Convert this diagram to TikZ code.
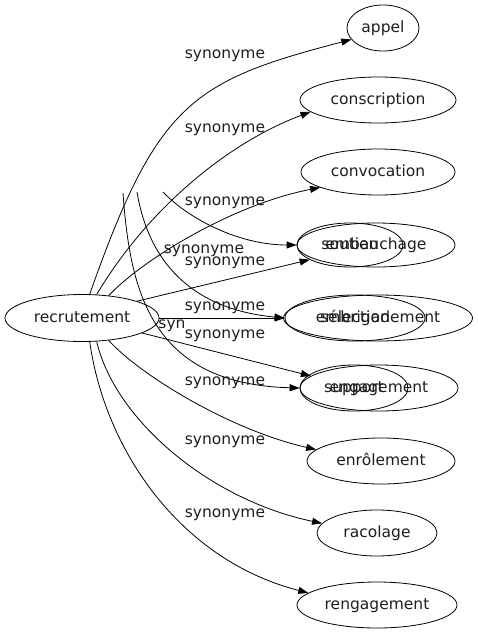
\documentclass[tikz,border=0pt]{standalone}
\usepackage{fontspec}
\setmainfont{DejaVu Sans}
\usetikzlibrary{arrows.meta,shapes.geometric}
\definecolor{encre}{RGB}{30,30,30}

\tikzset{
  mot/.style={draw, ellipse, inner sep=0pt, line width=0.8pt, minimum height=46pt, text height=11pt, text depth=3pt, text=encre, font=\fontsize{15.5}{18}\selectfont},
  lien/.style={-{Triangle[length=10pt,width=7pt]}, line width=0.8pt},
  etiq/.style={text=encre, inner sep=0pt, text height=11pt, text depth=3pt, font=\fontsize{15.5}{18}\selectfont},
}

\begin{document}
\begin{tikzpicture}[x=1pt,y=-1pt]
\useasboundingbox (0,0) rectangle (477,635);
\node (recrutement) at (82,318) [mot, minimum width=154pt, minimum height=47pt] {recrutement};
\node (appel) at (383,28) [mot, minimum width=72pt] {appel};
\node (conscription) at (378,100) [mot, minimum width=156pt] {conscription};
\node (convocation) at (378,172) [mot, minimum width=154pt] {convocation};
\node (embauchage) at (376,245) [mot, minimum width=158pt, minimum height=44pt] {embauchage};
\node (soutien) at (350,245) [mot, minimum width=106pt, minimum height=44pt] {soutien};
\node (embrigadement) at (378,318) [mot, minimum width=189pt] {embrigadement};
\node (selection) at (355,318) [mot, minimum width=140pt] {sélection};
\node (engagement) at (379,388) [mot, minimum width=158pt] {engagement};
\node (support) at (354,388) [mot, minimum width=108pt] {support};
\node (enrolement) at (381,461) [mot, minimum width=148pt] {enrôlement};
\node (racolage) at (377,533) [mot, minimum width=120pt] {racolage};
\node (rengagement) at (377,605) [mot, minimum width=160pt] {rengagement};

% bouts d'aretes sans depart visible
\coordinate (boutA) at (123,193);
\coordinate (boutB) at (137,192);
\coordinate (boutC) at (163,192);

\draw[lien] (recrutement.72) .. controls (157,103) and (192,81) .. (appel.200);
\draw[lien] (recrutement.58) .. controls (150,205) and (232,141) .. (conscription.190);
\draw[lien] (recrutement.40) .. controls (140,262) and (230,205) .. (convocation.195);
\draw[lien] (recrutement.17) -- (soutien.200);
\draw[lien] (recrutement.east) -- (selection.west);
\draw[lien] (recrutement.-14) -- (engagement.170);
\draw[lien] (recrutement.-40) .. controls (140,375) and (230,430) .. (enrolement.170);
\draw[lien] (recrutement.-58) .. controls (115,420) and (210,500) .. (racolage.170);
\draw[lien] (recrutement.-72) .. controls (105,450) and (180,560) .. (rengagement.170);
\draw[lien] (boutA) .. controls (130,290) and (150,384) .. (support.west);
\draw[lien] (boutB) .. controls (150,270) and (200,310) .. (selection.west);
\draw[lien] (boutC) .. controls (190,220) and (240,245) .. (soutien.west);

\node (syn1) at (225,54) [etiq] {synonyme};
\node (syn2) at (225,128) [etiq] {synonyme};
\node (syn3) at (225,201) [etiq] {synonyme};
\node (syn4) at (204,249) [etiq] {synonyme};
\node (syn5) at (225,261) [etiq] {synonyme};
\node (syn6) at (225,306) [etiq] {synonyme};
\node (syn7) at (225,334) [etiq] {synonyme};
\node (syn8) at (225,381) [etiq] {synonyme};
\node (syn9) at (225,440) [etiq] {synonyme};
\node (syn10) at (225,513) [etiq] {synonyme};
\node (syn11) at (172,324) [etiq] {syn};
\end{tikzpicture}
\end{document}
